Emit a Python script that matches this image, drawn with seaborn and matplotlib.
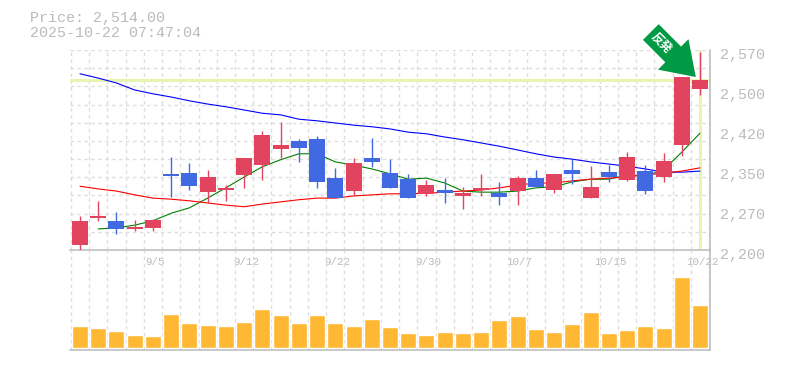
import matplotlib
matplotlib.use('Agg')
import matplotlib.pyplot as plt
from matplotlib.transforms import ScaledTranslation
import seaborn as sns
import pandas as pd
import numpy as np

title_lines = ['Price: 2,514.00', '2025-10-22 07:47:04']
last_price = 2514
price_ticks = [2200, 2274, 2348, 2422, 2496, 2570]
price_labels = ['2,200', '2,270', '2,350', '2,420', '2,500', '2,570']
date_pos = [4, 9, 14, 19, 24, 29, 34]
date_labels = ['9/5', '9/12', '9/22', '9/30', '10/7', '10/15', '10/22']

open_p = [2209, 2259, 2254, 2239, 2241, 2339, 2342, 2307, 2311, 2339, 2357, 2387, 2402, 2405, 2333, 2309, 2370, 2342,
          2331, 2304, 2311, 2300, 2311, 2305, 2309, 2333, 2311, 2348, 2296, 2344, 2330, 2346, 2335, 2394, 2498]
close_p = [2254, 2263, 2239, 2243, 2255, 2337, 2318, 2335, 2315, 2370, 2413, 2394, 2389, 2326, 2296, 2361, 2363, 2315,
           2296, 2320, 2305, 2305, 2315, 2298, 2333, 2317, 2341, 2341, 2317, 2335, 2372, 2309, 2365, 2520, 2514]
high_p = [2263, 2291, 2270, 2255, 2257, 2372, 2361, 2348, 2320, 2370, 2420, 2437, 2405, 2411, 2352, 2370, 2407, 2368,
          2341, 2330, 2333, 2317, 2341, 2326, 2337, 2348, 2341, 2368, 2355, 2357, 2381, 2357, 2379, 2520, 2566]
low_p = [2200, 2254, 2230, 2235, 2235, 2298, 2311, 2287, 2291, 2315, 2330, 2370, 2363, 2315, 2296, 2302, 2354, 2315,
         2296, 2300, 2287, 2276, 2300, 2283, 2283, 2317, 2305, 2322, 2296, 2326, 2328, 2304, 2326, 2374, 2487]
ma_blue = [2526, 2518, 2509, 2496, 2489, 2483, 2476, 2470, 2465, 2459, 2453, 2450, 2442, 2439, 2435, 2431, 2428, 2424,
           2418, 2415, 2409, 2404, 2398, 2392, 2385, 2378, 2372, 2368, 2363, 2359, 2355, 2350, 2344, 2344, 2346]
ma_green = [np.nan, 2239, 2241, 2246, 2254, 2268, 2278, 2296, 2315, 2335, 2354, 2367, 2378, 2378, 2363, 2357, 2350, 2341,
            2331, 2333, 2324, 2309, 2307, 2307, 2309, 2315, 2317, 2326, 2331, 2331, 2339, 2337, 2348, 2381, 2416]
ma_red = [2318, 2313, 2309, 2302, 2296, 2294, 2291, 2287, 2283, 2280, 2285, 2289, 2293, 2296, 2296, 2300, 2302, 2304,
          2304, 2305, 2307, 2309, 2311, 2315, 2320, 2324, 2324, 2328, 2331, 2333, 2335, 2339, 2342, 2346, 2352]
volume = [22, 20, 17, 13, 12, 34, 25, 23, 22, 26, 39, 33, 25, 33, 25, 22, 29, 21,
          15, 13, 16, 15, 16, 28, 32, 19, 16, 24, 36, 15, 18, 22, 20, 71, 43]

RED = '#E2435F'
BLUE = '#4169E1'
ORANGE = '#FFB833'
HILITE = '#E6F5B0'
GRID = '#DDDDDD'
TEXT = '#BBBBBB'
MONO = 'Liberation Mono'

sns.set_style('white')

W, H = 785, 370
fig = plt.figure(figsize=(W / 100, H / 100), dpi=100)


# axes placed by pixel box, y measured from the top of the image
def pixel_axes(left, top, right, bottom):
    return fig.add_axes([left / W, 1 - bottom / H, (right - left) / W, (bottom - top) / H])


ax = pixel_axes(70, 50, 710, 250)
ax_vol = pixel_axes(70, 250, 710, 350)

df = pd.DataFrame({'i': np.arange(len(open_p)), 'open': open_p, 'close': close_p, 'high': high_p,
                   'low': low_p, 'blue': ma_blue, 'green': ma_green, 'red': ma_red, 'volume': volume})

xlim = (-0.548, len(df) - 1 + 0.548)

# dashed grid
for a in (ax, ax_vol):
    for x in np.arange(-0.5, len(df)):
        a.axvline(x, color=GRID, lw=1.0, ls=(0, (2.5, 2.5)), zorder=0)
ax.set_ylim(2200, 2570)
for y in np.linspace(2200, 2570, 12)[1:]:
    ax.axhline(y, color=GRID, lw=1.0, ls=(0, (2.5, 2.5)), zorder=0)

# last price cross
ax.axhline(last_price, color=HILITE, lw=2.2, zorder=1)
ax.axvline(df['i'].iloc[-1], color=HILITE, lw=2.2, zorder=1)

# moving averages, candles go over them
for col, c in [('blue', '#0000FF'), ('green', '#008000'), ('red', '#FF0000')]:
    sns.lineplot(data=df, x='i', y=col, color=c, lw=0.8, ax=ax, zorder=2, legend=False)

colors = [RED if c >= o else BLUE for o, c in zip(df['open'], df['close'])]
ax.vlines(df['i'], df['low'], df['high'], colors=colors, lw=1.0, zorder=3)
ax.bar(df['i'], (df['close'] - df['open']).abs().clip(lower=3), bottom=df[['open', 'close']].min(axis=1),
       width=0.875, color=colors, lw=0, zorder=4)

# arrow marker over the jump
ax.annotate('', xy=(33.77, 2520), xycoords='data',
            xytext=(-45, 45), textcoords='offset pixels', annotation_clip=False, zorder=6,
            arrowprops=dict(facecolor='#009944', edgecolor='none', width=16, headwidth=31, headlength=23, shrink=0))
fig.text(661 / W, 1 - 43 / H, '反発', family=['Noto Sans CJK JP', 'DejaVu Sans'], fontsize=8.5, fontweight='bold',
         color='white', rotation=-45, ha='center', va='center', zorder=10)

# volume panel
sns.barplot(data=df, x='i', y='volume', color=ORANGE, saturation=1, width=0.875, native_scale=True, ax=ax_vol, zorder=2)
ax_vol.set_ylim(-2, 98)

for a in (ax, ax_vol):
    a.set_xlim(*xlim)
    a.set_xlabel('')
    a.set_ylabel('')
    a.set_yticks([])
    a.set_xticks([])
    a.set_facecolor('none')
    for side in ('left', 'top'):
        a.spines[side].set_visible(False)
    for side in ('right', 'bottom'):
        a.spines[side].set_color(TEXT)
        a.spines[side].set_linewidth(1.1)

ax.set_yticks(price_ticks, price_labels, family=MONO, fontsize=10.8, color=TEXT)
ax.yaxis.tick_right()
ax.tick_params(axis='y', length=0, pad=7)
shift = ScaledTranslation(0, -3 / 100, fig.dpi_scale_trans)
for lab in ax.get_yticklabels():
    lab.set_transform(lab.get_transform() + shift)
ax.set_xticks(date_pos, date_labels, family=MONO, fontsize=7.8, color=TEXT)
ax.tick_params(axis='x', length=0, pad=5)
shift_x = ScaledTranslation(2 / 100, 0, fig.dpi_scale_trans)
for lab in ax.get_xticklabels():
    lab.set_transform(lab.get_transform() + shift_x)

for k, line in enumerate(title_lines):
    fig.text(30 / W, 1 - (18 + 15 * k) / H, line, family=MONO, fontsize=10.8, color=TEXT, ha='left', va='center')

fig.savefig('out.png', dpi=100)
